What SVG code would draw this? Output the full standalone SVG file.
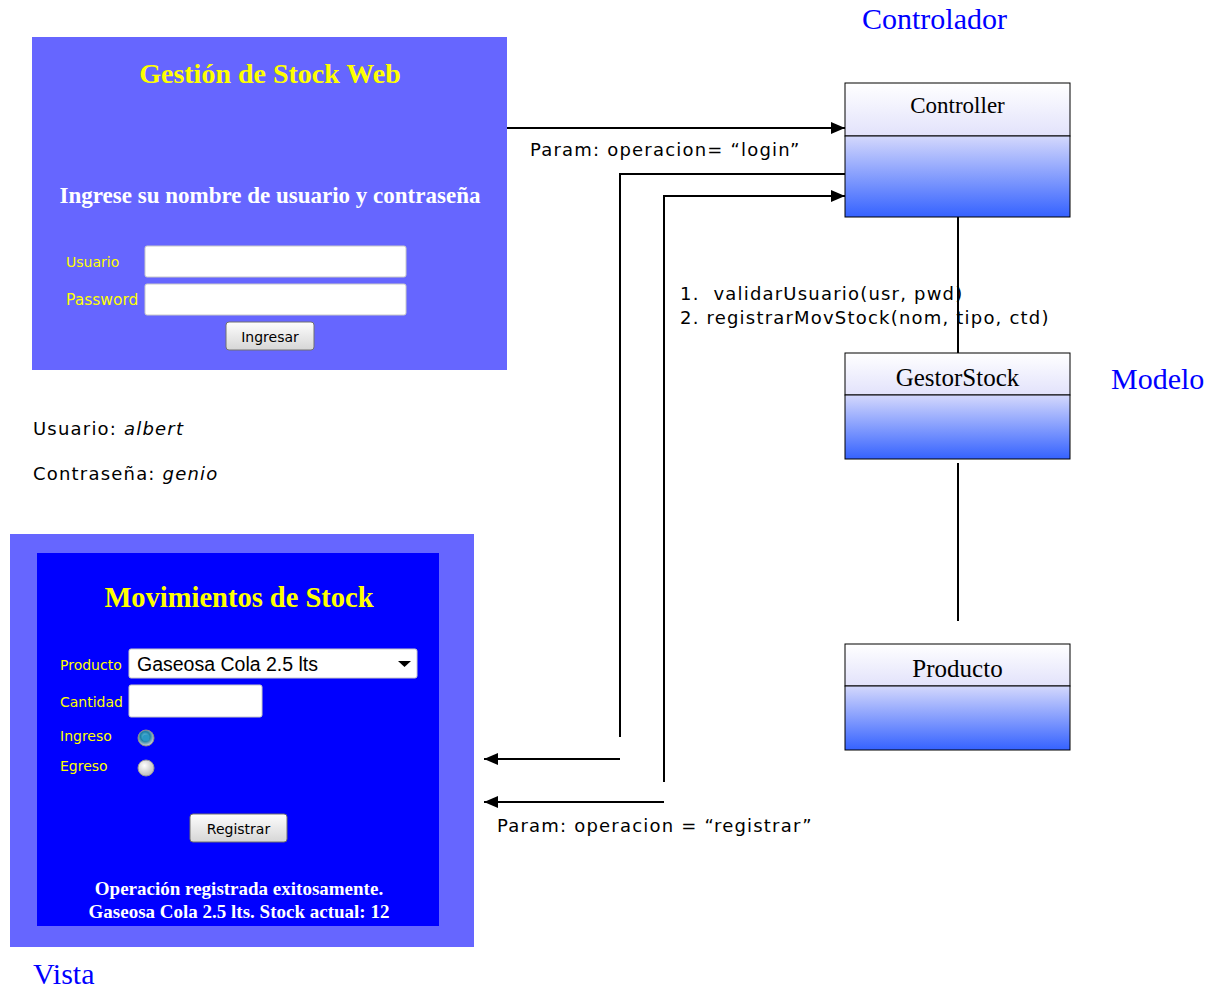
<svg xmlns="http://www.w3.org/2000/svg" width="1211" height="989" viewBox="0 0 1211 989">
  <defs>
    <linearGradient id="headGrad" x1="0" y1="0" x2="0" y2="1">
      <stop offset="0" stop-color="#ffffff"/>
      <stop offset="1" stop-color="#e2e2fb"/>
    </linearGradient>
    <linearGradient id="bodyGrad" x1="0" y1="0" x2="0" y2="1">
      <stop offset="0" stop-color="#d4d8fc"/>
      <stop offset="1" stop-color="#3562ff"/>
    </linearGradient>
    <linearGradient id="btnGrad" x1="0" y1="0" x2="0" y2="1">
      <stop offset="0" stop-color="#fdfdfd"/>
      <stop offset="1" stop-color="#d6d6d6"/>
    </linearGradient>
    <radialGradient id="radioOn" cx="0.45" cy="0.4" r="0.6">
      <stop offset="0" stop-color="#6fd0f0"/>
      <stop offset="0.5" stop-color="#1d7fa6"/>
      <stop offset="1" stop-color="#d8d8d8"/>
    </radialGradient>
    <radialGradient id="radioOff" cx="0.4" cy="0.35" r="0.7">
      <stop offset="0" stop-color="#ffffff"/>
      <stop offset="1" stop-color="#b8b8b8"/>
    </radialGradient>
    <marker id="arrow" viewBox="0 0 14 12" refX="14" refY="6" markerWidth="14" markerHeight="12" markerUnits="userSpaceOnUse" orient="auto">
      <path d="M0,0 L14,6 L0,12 z" fill="#000"/>
    </marker>
    <style>
      .panel { fill: #6666ff; }
      .inner { fill: #0000ff; }
      .title { font-family: "Liberation Serif", serif; font-weight: bold; fill: #ffff00; text-anchor: middle; }
      .wtitle { font-family: "Liberation Serif", serif; font-weight: bold; fill: #ffffff; text-anchor: middle; }
      .flabel { font-family: "DejaVu Sans", sans-serif; font-size: 14px; fill: #ffff00; }
      .input { fill: #ffffff; stroke: #c8c8c8; stroke-width: 1; }
      .btn { fill: url(#btnGrad); stroke: #707070; stroke-width: 1; }
      .btntext { font-family: "DejaVu Sans", sans-serif; font-size: 14px; fill: #000; text-anchor: middle; }
      .note { font-family: "DejaVu Sans", sans-serif; font-size: 18px; letter-spacing: 1.2px; fill: #000; }
      .layer { font-family: "Liberation Serif", serif; font-size: 30px; fill: #0000ff; }
      .head { fill: url(#headGrad); stroke: #000; stroke-width: 1; }
      .body { fill: url(#bodyGrad); stroke: #000; stroke-width: 1; }
      .cname { font-family: "Liberation Serif", serif; fill: #000; text-anchor: middle; }
      .conn { fill: none; stroke: #000; stroke-width: 2; }
    </style>
  </defs>

  <rect width="1211" height="989" fill="#ffffff"/>

  <!-- Login screen -->
  <g id="login-screen">
    <rect class="panel" x="32" y="37" width="475" height="333"/>
    <text class="title" x="270" y="83" font-size="28">Gestión de Stock Web</text>
    <text class="wtitle" x="270" y="203" font-size="23">Ingrese su nombre de usuario y contraseña</text>
    <text class="flabel" x="66" y="267">Usuario</text>
    <rect class="input" x="145" y="246" width="261" height="31" rx="2"/>
    <text class="flabel" x="66" y="305" style="font-size:15.5px">Password</text>
    <rect class="input" x="145" y="284" width="261" height="31" rx="2"/>
    <rect class="btn" x="226" y="322" width="88" height="28" rx="3"/>
    <text class="btntext" x="270" y="342">Ingresar</text>
  </g>

  <!-- Credentials -->
  <g id="credentials">
    <text class="note" x="33" y="435">Usuario: <tspan font-style="italic">albert</tspan></text>
    <text class="note" x="33" y="480">Contraseña: <tspan font-style="italic">genio</tspan></text>
  </g>

  <!-- Stock movements screen -->
  <g id="stock-screen">
    <rect class="panel" x="10" y="534" width="464" height="413"/>
    <rect class="inner" x="37" y="553" width="402" height="373"/>
    <text class="title" x="239" y="607" font-size="28.5">Movimientos de Stock</text>
    <text class="flabel" x="60" y="670">Producto</text>
    <rect class="input" x="129" y="649" width="288" height="29" rx="2"/>
    <text x="137" y="671" font-family="'Liberation Sans', sans-serif" font-size="19.5" fill="#000">Gaseosa Cola 2.5 lts</text>
    <path d="M398,661 L411,661 L404.5,667 z" fill="#000"/>
    <text class="flabel" x="60" y="707">Cantidad</text>
    <rect class="input" x="129" y="685" width="133" height="32" rx="2"/>
    <text class="flabel" x="60" y="741">Ingreso</text>
    <circle cx="146" cy="738" r="8" fill="url(#radioOn)" stroke="#8a8a8a" stroke-width="1"/>
    <circle cx="146" cy="738" r="3.5" fill="#2a98c4"/>
    <text class="flabel" x="60" y="771">Egreso</text>
    <circle cx="146" cy="768" r="8" fill="url(#radioOff)" stroke="#9a9a9a" stroke-width="1"/>
    <rect class="btn" x="190" y="814" width="97" height="28" rx="3"/>
    <text class="btntext" x="238.5" y="834">Registrar</text>
    <text class="wtitle" x="239" y="895" font-size="19">Operación registrada exitosamente.</text>
    <text class="wtitle" x="239" y="918" font-size="19">Gaseosa Cola 2.5 lts. Stock actual: 12</text>
  </g>

  <!-- Layer captions -->
  <g id="layer-labels">
    <text class="layer" x="862" y="29">Controlador</text>
    <text class="layer" x="1111" y="389">Modelo</text>
    <text class="layer" x="33" y="984">Vista</text>
  </g>

  <!-- Classes -->
  <g id="controller">
    <rect class="head" x="845" y="83" width="225" height="53"/>
    <rect class="body" x="845" y="136" width="225" height="81"/>
    <text class="cname" x="957.5" y="113" font-size="23">Controller</text>
  </g>
  <g id="gestor-stock">
    <rect class="head" x="845" y="353" width="225" height="42"/>
    <rect class="body" x="845" y="395" width="225" height="64"/>
    <text class="cname" x="957.5" y="386" font-size="25">GestorStock</text>
  </g>
  <g id="producto">
    <rect class="head" x="845" y="644" width="225" height="42"/>
    <rect class="body" x="845" y="686" width="225" height="64"/>
    <text class="cname" x="957.5" y="677" font-size="25">Producto</text>
  </g>

  <!-- Connectors -->
  <g id="connectors">
    <line class="conn" x1="507" y1="128" x2="845" y2="128" marker-end="url(#arrow)"/>
    <polyline class="conn" points="845,174 620,174 620,737"/>
    <line class="conn" x1="620" y1="759" x2="484" y2="759" marker-end="url(#arrow)"/>
    <polyline class="conn" points="664,782 664,196 845,196" marker-end="url(#arrow)"/>
    <line class="conn" x1="664" y1="802" x2="484" y2="802" marker-end="url(#arrow)"/>
    <line class="conn" x1="958" y1="217" x2="958" y2="353"/>
    <line class="conn" x1="958" y1="463" x2="958" y2="621"/>
  </g>

  <!-- Connector labels -->
  <g id="connector-labels">
    <text class="note" x="530" y="156">Param: operacion= “login”</text>
    <text class="note" x="680" y="300">1.&#160; validarUsuario(usr, pwd)</text>
    <text class="note" x="680" y="324">2. registrarMovStock(nom, tipo, ctd)</text>
    <text class="note" x="497" y="832">Param: operacion = “registrar”</text>
  </g>
</svg>
